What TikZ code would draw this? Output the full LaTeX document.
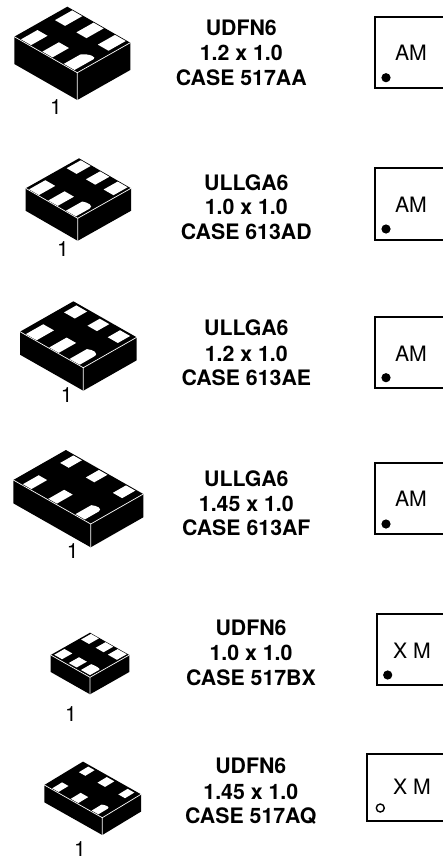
\documentclass[tikz,border=0pt]{standalone}
\usepackage{fontspec}
\setmainfont{TeX Gyre Heros}
\tikzset{
  padfill/.style={fill=white},
  edgeline/.style={draw=white,line width=0.7pt},
  marklabel/.style={anchor=base,inner sep=0pt,font=\fontsize{21.2}{24}\selectfont},
  titleline/.style={anchor=base,inner sep=0pt,font=\fontsize{21.3}{24}\selectfont\bfseries},
  pinone/.style={anchor=base,inner sep=0pt,font=\fontsize{21}{24}\selectfont},
  markbox/.style={draw=black,line width=1.8pt,line join=miter},
  dotfull/.style={fill=black},
  dotopen/.style={draw=black,line width=1.4pt,fill=white}
}
\newcommand\onepad[4]{\fill[padfill] (#1,#3) -- (#2,#3) -- (#2,#4) -- (#1,#4) -- cycle;}
% front t0, front t1, back t0, back t1, curve control t, end t of the pin-1 pad
\newcommand\pads[6]{%
  \fill[padfill] (\sAa,#1) -- (\sAb,#1) -- (\sAb,#2)
     .. controls ({\sAb-0.35*(\sAb-\sAa)},#5) and (\sAa,#5) .. (\sAa,#6) -- cycle;
  \onepad{\sBa}{\sBb}{#1}{#2}
  \onepad{\sCa}{\sCb}{#1}{#2}
  \onepad{\sAa}{\sAb}{#3}{#4}
  \onepad{\sBa}{\sBb}{#3}{#4}
  \onepad{\sCa}{\sCb}{#3}{#4}
}
\newcommand\srows[6]{\def\sAa{#1}\def\sAb{#2}\def\sBa{#3}\def\sBb{#4}\def\sCa{#5}\def\sCb{#6}}
% Fx Fy Lx Ly Rx Ry height
\newcommand\pkgbody[7]{%
  \fill[black] (#3,#4) -- ({#3+#5-#1},{#4+#6-#2}) -- (#5,#6) -- (#5,{#6+#7}) -- (#1,{#2+#7}) -- (#3,{#4+#7}) -- cycle;
  \draw[edgeline] (#3,#4) -- (#1,#2) -- (#5,#6) (#1,#2) -- (#1,{#2+#7});
}
\newenvironment{pkgtop}[6]{\begin{scope}[shift={(#1,#2)},x={({(#3-#1)*1pt},{(#2-#4)*1pt})},y={({(#5-#1)*1pt},{(#2-#6)*1pt})}]}{\end{scope}}
\begin{document}
\begin{tikzpicture}[x=1pt,y=-1pt]
\path[use as bounding box,clip] (0,0) rectangle (443,859);
\fill[white] (0,0) rectangle (443,859);

% Package 1
\pkgbody{77.3}{72.7}{14.3}{36.7}{130.3}{42.7}{27.3}
\begin{pkgtop}{77.3}{72.7}{14.3}{36.7}{130.3}{42.7}
\srows{.06}{.23}{.41}{.57}{.75}{.91}\pads{.02}{.33}{.66}{.985}{.44}{.38}
\end{pkgtop}
\node[pinone] (pa) at (56,114) {1};
% Package 2
\pkgbody{77.7}{218.3}{25.7}{188.3}{131}{188.3}{22.5}
\begin{pkgtop}{77.7}{218.3}{25.7}{188.3}{131}{188.3}
\srows{.05}{.24}{.40}{.58}{.76}{.95}\pads{.015}{.32}{.72}{.985}{.36}{.27}
\end{pkgtop}
\node[pinone] (pb) at (63,256) {1};
% Package 3
\pkgbody{83.3}{367.7}{20}{331.7}{136.7}{337.3}{23}
\begin{pkgtop}{83.3}{367.7}{20}{331.7}{136.7}{337.3}
\srows{.07}{.23}{.40}{.55}{.75}{.92}\pads{.015}{.34}{.73}{.96}{.39}{.28}
\end{pkgtop}
\node[pinone] (pc) at (66.7,402.7) {1};
% Package 4
\pkgbody{90.7}{524}{13.3}{480}{143.3}{494}{23.3}
\begin{pkgtop}{90.7}{524}{13.3}{480}{143.3}{494}
\srows{.09}{.21}{.45}{.56}{.78}{.89}\pads{.02}{.32}{.73}{.98}{.37}{.28}
\end{pkgtop}
\node[pinone] (pd) at (72.7,558.3) {1};
% Package 5
\pkgbody{90}{677.3}{50.7}{655}{129.3}{655}{17}
\begin{pkgtop}{90}{677.3}{50.7}{655}{129.3}{655}
\srows{.05}{.28}{.39}{.59}{.76}{.96}\pads{.05}{.31}{.735}{.985}{.33}{.29}
\end{pkgtop}
\node[pinone] (pe) at (71,721) {1};
% Package 6
\pkgbody{102.3}{817.7}{44.3}{785}{141}{794.3}{17.3}
\begin{pkgtop}{102.3}{817.7}{44.3}{785}{141}{794.3}
\srows{.085}{.20}{.43}{.56}{.77}{.88}\pads{.025}{.28}{.715}{.955}{.33}{.27}
\end{pkgtop}
\node[pinone] (pf) at (80,856) {1};

% Titles
\node[titleline] (ta1) at (241.3,35.7) {UDFN6};
\node[titleline] (ta2) at (241.3,60.7) {1.2 x 1.0};
\node[titleline] (ta3) at (241.3,85) {CASE 517AA};
\node[titleline] (tb1) at (246.3,190) {ULLGA6};
\node[titleline] (tb2) at (246.3,214.5) {1.0 x 1.0};
\node[titleline] (tb3) at (246.3,239) {CASE 613AD};
\node[titleline] (tc1) at (246.3,335.7) {ULLGA6};
\node[titleline] (tc2) at (246.3,361) {1.2 x 1.0};
\node[titleline] (tc3) at (246.3,385) {CASE 613AE};
\node[titleline] (td1) at (246.3,486.7) {ULLGA6};
\node[titleline] (td2) at (246.3,511.7) {1.45 x 1.0};
\node[titleline] (td3) at (246.3,535) {CASE 613AF};
\node[titleline] (te1) at (251,635.7) {UDFN6};
\node[titleline] (te2) at (251,660.7) {1.0 x 1.0};
\node[titleline] (te3) at (251,685) {CASE 517BX};
\node[titleline] (tf1) at (250.8,773) {UDFN6};
\node[titleline] (tf2) at (250.8,799) {1.45 x 1.0};
\node[titleline] (tf3) at (250.8,823) {CASE 517AQ};

% Marking boxes
\draw[markbox] (450,16.7) -- (375,16.7) -- (375,88.3) -- (450,88.3);
\node[marklabel] (ma) at (411,61) {AM};
\fill[dotfull] (386,77.7) circle (4.6);
\draw[markbox] (450,168) -- (375,168) -- (375,240) -- (450,240);
\node[marklabel] (mb) at (411,212.3) {AM};
\fill[dotfull] (386,229) circle (4.6);
\draw[markbox] (450,316.7) -- (375,316.7) -- (375,388.3) -- (450,388.3);
\node[marklabel] (mc) at (411,361) {AM};
\fill[dotfull] (386,377.7) circle (4.6);
\draw[markbox] (450,462.7) -- (375,462.7) -- (375,534.3) -- (450,534.3);
\node[marklabel] (md) at (411,506.7) {AM};
\fill[dotfull] (386,524) circle (4.6);
\draw[markbox] (450,614) -- (376.7,614) -- (376.7,685) -- (450,685);
\node[marklabel] (me) at (412,658) {X M};
\fill[dotfull] (387.7,675) circle (4.6);
\draw[markbox] (450,754.3) -- (366.7,754.3) -- (366.7,821) -- (450,821);
\node[marklabel] (mf) at (412,794.3) {X M};
\draw[dotopen] (380.3,808) circle (4);
\end{tikzpicture}
\end{document}
